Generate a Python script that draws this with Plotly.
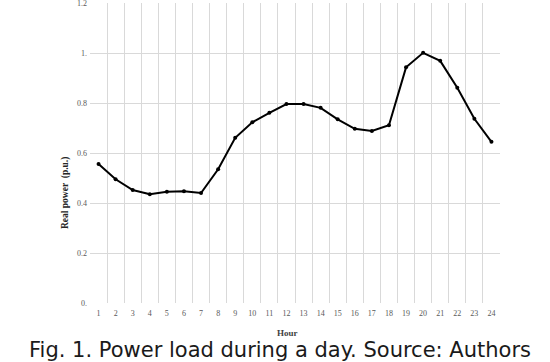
import plotly.graph_objects as go

hours = list(range(1, 25))
real_power = [0.556, 0.495, 0.452, 0.435, 0.445, 0.447, 0.440, 0.535, 0.661, 0.723,
              0.761, 0.796, 0.796, 0.781, 0.735, 0.697, 0.688, 0.711, 0.943, 1.001,
              0.969, 0.861, 0.737, 0.645]
y_tickvals = [0, 0.2, 0.4, 0.6, 0.8, 1.0, 1.2]
y_ticktext = ["0.", "0.2", "0.4", "0.6", "0.8", "1.", "1.2"]
x_ticktext = [str(h) for h in hours]

fig = go.Figure()
fig.add_trace(go.Scatter(
    x=hours, y=real_power, mode="lines+markers",
    line=dict(color="black", width=2),
    marker=dict(color="black", size=4),
    showlegend=False,
))

grid = "#d9d9d9"
tickfont = dict(family="Liberation Serif", size=8, color="#595959")

fig.update_layout(
    width=550, height=362,
    margin=dict(l=90, r=50, t=3, b=59),
    paper_bgcolor="white", plot_bgcolor="white",
    xaxis=dict(
        range=[0.5, 24.5], tickvals=hours, ticktext=x_ticktext,
        showgrid=False, zeroline=False, showline=False, ticks="",
        tickfont=tickfont, automargin=False, ticklabelstandoff=4,
        minor=dict(tick0=0.5, dtick=1, showgrid=True, gridcolor=grid, gridwidth=1, ticks=""),
    ),
    yaxis=dict(
        range=[0, 1.2005], tickvals=y_tickvals, ticktext=y_ticktext,
        showgrid=True, gridcolor=grid, gridwidth=1, zeroline=False, showline=False,
        ticks="", tickfont=tickfont, ticklabeloverflow="allow", automargin=False,
        ticklabelstandoff=2,
    ),
    annotations=[
        dict(text="<b>Real power  (p.u.)</b>", x=65, y=193, xref="paper", yref="paper",
             showarrow=False, textangle=-90,
             font=dict(family="Liberation Serif", size=9.5, color="#262626")),
        dict(text="<b>Hour</b>", x=287, y=333, showarrow=False,
             font=dict(family="Liberation Serif", size=9, color="#404040")),
        dict(text="Fig. 1. Power load during a day. Source: Authors", x=280, y=350,
             showarrow=False, font=dict(family="DejaVu Sans", size=21, color="#1a1a1a")),
    ],
)

# convert pixel positions to paper coordinates
pw = 550 - 90 - 50
ph = 362 - 3 - 59
for a in fig.layout.annotations:
    a.x = (a.x - 90) / pw
    a.y = (362 - 59 - a.y) / ph
    a.xref = "paper"
    a.yref = "paper"
    a.xanchor = "center"
    a.yanchor = "middle"

fig.write_html("out.html", config={"displayModeBar": False},
               post_script="document.body.style.margin='0';document.body.style.overflow='hidden';")
